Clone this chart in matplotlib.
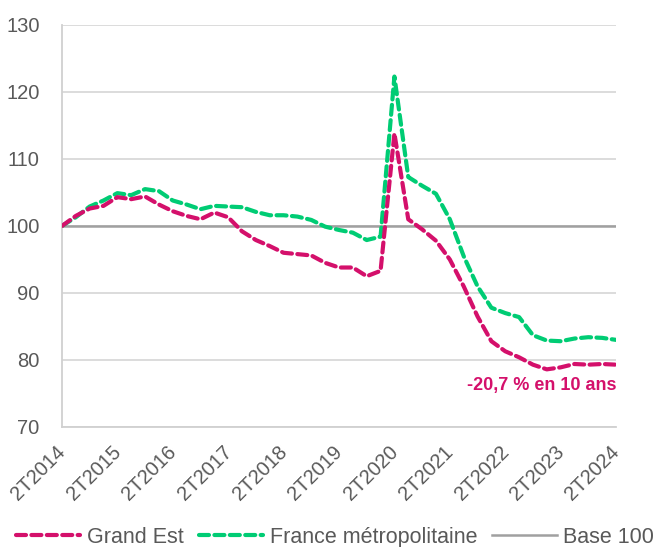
import numpy as np
import matplotlib
matplotlib.use("Agg")
import matplotlib.pyplot as plt
import matplotlib.transforms as mtrans

plt.rcParams['font.family'] = ['Liberation Sans', 'DejaVu Sans']

# quarterly index, base 100 = 2T2014
trimestres = ['2T2014', '2T2015', '2T2016', '2T2017', '2T2018', '2T2019',
              '2T2020', '2T2021', '2T2022', '2T2023', '2T2024']
grand_est = [100.0, 101.5, 102.6, 103.0, 104.3, 104.0, 104.4, 103.2, 102.2, 101.5,
             101.0, 102.0, 101.3, 99.2, 97.9, 97.0, 96.0, 95.8, 95.6, 94.5,
             93.8, 93.8, 92.5, 93.3, 113.8, 101.0, 99.5, 97.8, 95.0, 91.0,
             86.5, 82.8, 81.3, 80.4, 79.3, 78.6, 78.9, 79.4, 79.3, 79.4, 79.3]
france = [100.0, 101.3, 102.9, 103.8, 104.9, 104.6, 105.5, 105.2, 103.8, 103.2,
          102.5, 103.0, 102.9, 102.8, 102.1, 101.6, 101.6, 101.4, 100.9, 99.9,
          99.4, 99.0, 97.9, 98.4, 122.3, 107.3, 106.0, 104.8, 101.0, 95.5,
          91.0, 87.8, 87.0, 86.4, 83.7, 82.9, 82.8, 83.2, 83.4, 83.3, 83.0]
base = 100
note = '-20,7 % en 10 ans'

magenta = '#D4106B'
vert = '#00CC74'

x = np.arange(len(grand_est))

fig = plt.figure(figsize=(6.66, 5.47), dpi=100)
ax = fig.add_axes([0.093, 0.2194, 0.832, 0.735])

for v in range(70, 131, 10):
    ax.axhline(v, color='#D9D9D9', lw=1.3, zorder=0)
ax.axhline(base, color='#A0A0A0', lw=1.8, zorder=1, label='Base 100')

ax.plot(x, grand_est, color=magenta, lw=3, dashes=(2.4, 1.3),
        dash_capstyle='round', label='Grand Est', zorder=3)
ax.plot(x, france, color=vert, lw=3, dashes=(2.4, 1.3),
        dash_capstyle='round', label='France métropolitaine', zorder=2)

ax.set_xlim(0, len(x) - 1)
ax.set_ylim(70, 130)
ax.set_yticks(range(70, 131, 10))
ax.set_xticks(range(0, len(x), 4))
ax.set_xticklabels(trimestres, rotation=45, ha='right', rotation_mode='anchor')
ax.tick_params(axis='both', length=0, labelsize=14.5, colors='#595959')
ax.tick_params(axis='y', pad=16)
ax.tick_params(axis='x', pad=11)
shift = mtrans.ScaledTranslation(-6 / 100, 0, fig.dpi_scale_trans)
for lab in ax.get_xticklabels():
    lab.set_transform(lab.get_transform() + shift)

for s in ['top', 'right']:
    ax.spines[s].set_visible(False)
ax.spines['left'].set_color('#D0D0D0')
ax.spines['left'].set_linewidth(1.3)
ax.spines['bottom'].set_color('#D0D0D0')
ax.spines['bottom'].set_linewidth(1.3)

ax.text(len(x) - 1, 76.2, note, color=magenta, fontsize=13, fontweight='bold',
        ha='right', va='center')

h, l = ax.get_legend_handles_labels()
order = [1, 2, 0]
fig.legend([h[i] for i in order], [l[i] for i in order], loc='lower center',
           bbox_to_anchor=(0.503, -0.037), ncol=3, frameon=False, fontsize=15.5,
           handlelength=3.0, columnspacing=0.7, handletextpad=0.3,
           labelcolor='#595959')

fig.savefig('out.png', dpi=100)
